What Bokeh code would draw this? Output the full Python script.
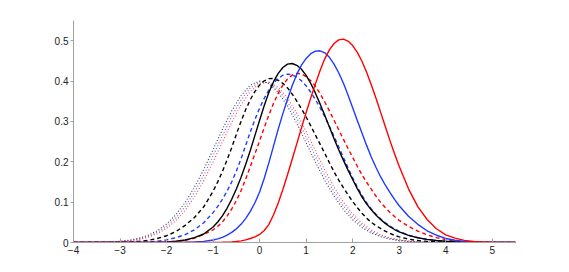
from bokeh.plotting import figure
from bokeh.models import Range1d, FixedTicker
from bokeh.embed import file_html
from bokeh.resources import INLINE

# coarse grid (dotted curves)
X = [-4.0, -3.2, -3.0, -2.8, -2.6, -2.4, -2.2, -2.0, -1.8, -1.6,
     -1.4, -1.2, -1.0, -0.8, -0.6, -0.4, -0.2, 0.0, 0.2, 0.4,
     0.6, 0.8, 1.0, 1.2, 1.4, 1.6, 1.8, 2.0, 2.2, 2.4,
     2.6, 2.8, 3.0, 3.2, 3.4, 3.6, 3.8, 4.0, 4.2, 4.4,
     4.6, 4.8, 5.0, 5.5]

# finer grid (solid and dashed curves)
XF = [-4.0, -3.2, -3.0, -2.8, -2.6, -2.4, -2.2, -2.0, -1.8, -1.6, -1.4, -1.2,
      -1.0, -0.9, -0.8, -0.7, -0.6, -0.5, -0.4, -0.3, -0.2, -0.1,
      0.0, 0.1, 0.2, 0.3, 0.4, 0.5, 0.6, 0.7, 0.8, 0.9,
      1.0, 1.1, 1.2, 1.3, 1.4, 1.5, 1.6, 1.7, 1.8, 1.9,
      2.0, 2.1, 2.2, 2.3, 2.4, 2.5, 2.6, 2.7, 2.8, 2.9, 3.0,
      3.2, 3.4, 3.6, 3.8, 4.0, 4.2, 4.4, 4.6, 4.8, 5.0, 5.5]

red_solid = [0, 0, 0, 0, 0, 0, 0, 0, 0, 0, 0, 0,
             0.0002, 0.0003, 0.0005, 0.0009, 0.0015, 0.0024, 0.004, 0.0065, 0.010, 0.0138,
             0.020, 0.0298, 0.045, 0.0687, 0.098, 0.1315, 0.168, 0.2061, 0.245, 0.2839,
             0.322, 0.3584, 0.393, 0.4261, 0.455, 0.4772, 0.493, 0.5019, 0.504, 0.4991,
             0.488, 0.4711, 0.449, 0.4218, 0.391, 0.3578, 0.323, 0.2878, 0.253, 0.2201, 0.189,
             0.133, 0.089, 0.057, 0.034, 0.019, 0.011, 0.0054, 0.0026, 0.0012, 0.0005, 0]

blue_solid = [0, 0, 0, 0, 0, 0, 0, 0, 0, 0.0005, 0.0012, 0.0028,
              0.0061, 0.0089, 0.0128, 0.0181, 0.025, 0.0338, 0.045, 0.0593, 0.077, 0.0984,
              0.125, 0.1593, 0.198, 0.2394, 0.281, 0.3193, 0.355, 0.3882, 0.417, 0.4393,
              0.456, 0.4677, 0.474, 0.4749, 0.470, 0.4587, 0.442, 0.4206, 0.395, 0.3655,
              0.334, 0.3024, 0.271, 0.2406, 0.212, 0.1863, 0.163, 0.1425, 0.124, 0.1067, 0.091,
              0.065, 0.045, 0.029, 0.018, 0.010, 0.0055, 0.0028, 0.0013, 0.0005, 0.0002, 0]

black_solid = [0, 0, 0, 0, 0, 0.0002, 0.0006, 0.0014, 0.003, 0.0062, 0.012, 0.021,
               0.0385, 0.0508, 0.066, 0.0848, 0.107, 0.1324, 0.161, 0.1932, 0.228, 0.2654,
               0.303, 0.3393, 0.372, 0.3984, 0.419, 0.4336, 0.442, 0.4435, 0.439, 0.4291,
               0.414, 0.3939, 0.370, 0.3434, 0.315, 0.2859, 0.257, 0.2299, 0.204, 0.1794,
               0.156, 0.1335, 0.113, 0.0958, 0.081, 0.0681, 0.057, 0.0473, 0.039, 0.0322, 0.0265,
               0.0178, 0.0118, 0.0077, 0.005, 0.003, 0.0018, 0.001, 0.0005, 0.0002, 0, 0]

red_dashed = [0, 0, 0, 0, 0, 0.0002, 0.0005, 0.0012, 0.0026, 0.0054, 0.0107, 0.020,
              0.0315, 0.040, 0.051, 0.0654, 0.083, 0.1038, 0.128, 0.1568, 0.188, 0.2198,
              0.252, 0.2846, 0.316, 0.3448, 0.370, 0.390, 0.405, 0.4147, 0.419, 0.4174,
              0.411, 0.4009, 0.387, 0.3688, 0.348, 0.326, 0.303, 0.2795, 0.256, 0.2333,
              0.211, 0.1889, 0.168, 0.1493, 0.132, 0.1151, 0.0996, 0.0866, 0.075, 0.0642, 0.0546,
              0.040, 0.028, 0.019, 0.012, 0.0075, 0.0044, 0.0025, 0.0014, 0.0008, 0.0004, 0]

blue_dashed = [0, 0, 0.0001, 0.0003, 0.0008, 0.0016, 0.0033, 0.0064, 0.0119, 0.0196, 0.0315, 0.049,
               0.074, 0.0894, 0.107, 0.127, 0.150, 0.177, 0.207, 0.2404, 0.274, 0.3049,
               0.333, 0.3574, 0.378, 0.3947, 0.407, 0.4143, 0.417, 0.4155, 0.410, 0.4007,
               0.388, 0.3723, 0.354, 0.3339, 0.312, 0.2881, 0.263, 0.2371, 0.211, 0.1849,
               0.160, 0.1374, 0.117, 0.0988, 0.083, 0.0699, 0.0587, 0.049, 0.0407, 0.0336, 0.0276,
               0.0183, 0.0119, 0.0076, 0.0048, 0.003, 0.0018, 0.001, 0.0005, 0.0002, 0, 0]

black_dashed = [0, 0.0002, 0.0006, 0.0013, 0.0027, 0.0053, 0.010, 0.0167, 0.027, 0.0425, 0.062, 0.0885,
                0.127, 0.1502, 0.176, 0.2045, 0.235, 0.2678, 0.300, 0.3288, 0.354, 0.3744,
                0.390, 0.4005, 0.406, 0.4062, 0.402, 0.3943, 0.383, 0.3678, 0.350, 0.3313,
                0.311, 0.2889, 0.266, 0.2436, 0.221, 0.1976, 0.175, 0.1548, 0.136, 0.1181,
                0.1015, 0.0863, 0.0725, 0.0604, 0.050, 0.0418, 0.0348, 0.0282, 0.0225, 0.0178, 0.014,
                0.0085, 0.0049, 0.0027, 0.0015, 0.0008, 0.0004, 0.0002, 0, 0, 0, 0]

black_dotted = [0, 0.0016, 0.0031, 0.0058, 0.0104, 0.0178, 0.0292, 0.0458, 0.0688, 0.0992,
                0.137, 0.181, 0.230, 0.280, 0.326, 0.364, 0.390, 0.400, 0.394, 0.372,
                0.338, 0.295, 0.247, 0.199, 0.154, 0.115, 0.082, 0.0563, 0.0372, 0.0236,
                0.0144, 0.0084, 0.0047, 0.0025, 0.0013, 0.0006, 0.0003, 0.0001, 0, 0,
                0, 0, 0, 0]

blue_dotted = [0, 0.0013, 0.0026, 0.0049, 0.0088, 0.0152, 0.0252, 0.040, 0.061, 0.089,
               0.1246, 0.167, 0.2147, 0.2644, 0.312, 0.353, 0.3827, 0.3976, 0.396, 0.379,
               0.3485, 0.308, 0.2613, 0.213, 0.167, 0.1257, 0.0909, 0.0632, 0.0422, 0.0271,
               0.0167, 0.0099, 0.0056, 0.0031, 0.0016, 0.0008, 0.0004, 0.0002, 0, 0,
               0, 0, 0, 0]

red_dotted = [0, 0.0011, 0.0021, 0.0040, 0.0074, 0.0129, 0.0217, 0.0349, 0.0539, 0.0796,
              0.1129, 0.1533, 0.1995, 0.2489, 0.2975, 0.3409, 0.3743, 0.3939, 0.3973, 0.3848,
              0.358, 0.3201, 0.275, 0.227, 0.180, 0.1371, 0.1003, 0.0706, 0.0477, 0.031,
              0.0193, 0.0116, 0.0067, 0.0037, 0.0019, 0.001, 0.0005, 0.0002, 0, 0,
              0, 0, 0, 0]

x_ticks = [-4, -3, -2, -1, 0, 1, 2, 3, 4, 5]
y_ticks = [0, 0.1, 0.2, 0.3, 0.4, 0.5]

for ys in (black_dotted, blue_dotted, red_dotted):
    assert len(ys) == len(X)
for ys in (red_solid, blue_solid, black_solid, red_dashed, blue_dashed, black_dashed):
    assert len(ys) == len(XF), len(ys)

p = figure(frame_width=442, frame_height=222, output_backend="svg",
           toolbar_location=None, x_range=Range1d(-4, 5.5), y_range=Range1d(0, 0.55),
           min_border_left=73, min_border_top=20, min_border_bottom=22, min_border_right=30)
p.outline_line_color = None
p.xgrid.visible = False
p.ygrid.visible = False
p.background_fill_color = "white"
p.border_fill_color = "white"

RED = "#ff0000"
BLUE = "#1f3bff"
BLACK = "#000000"

dotted = [(black_dotted, BLACK), (blue_dotted, BLUE), (red_dotted, RED)]
dashed = [(black_dashed, BLACK), (blue_dashed, BLUE), (red_dashed, RED)]
solid = [(black_solid, BLACK), (blue_solid, BLUE), (red_solid, RED)]

for ys, c in dotted:
    p.line(X, ys, line_color=c, line_width=1.1, line_dash="1 2", line_alpha=0.75)
for ys, c in dashed:
    p.line(XF, ys, line_color=c, line_width=1.4, line_dash="4 3")
for ys, c in solid:
    p.line(XF, ys, line_color=c, line_width=1.4)

for ax in (p.xaxis[0], p.yaxis[0]):
    ax.axis_line_color = "#a0a0a0"
    ax.major_tick_line_color = "#a0a0a0"
    ax.minor_tick_line_color = None
    ax.major_label_text_font = "Liberation Sans"
    ax.major_label_text_font_size = "10px"
    ax.major_label_text_color = "#222222"

p.xaxis.ticker = FixedTicker(ticks=x_ticks)
p.yaxis.ticker = FixedTicker(ticks=y_ticks)
p.xaxis.major_tick_in = 4
p.xaxis.major_tick_out = 0
p.xaxis.major_label_standoff = 3
p.yaxis.major_tick_in = 0
p.yaxis.major_tick_out = 3
p.yaxis.major_label_standoff = 2
p.yaxis.major_label_overrides = {0: "0"}

open("out.html", "w").write(file_html(p, INLINE))
